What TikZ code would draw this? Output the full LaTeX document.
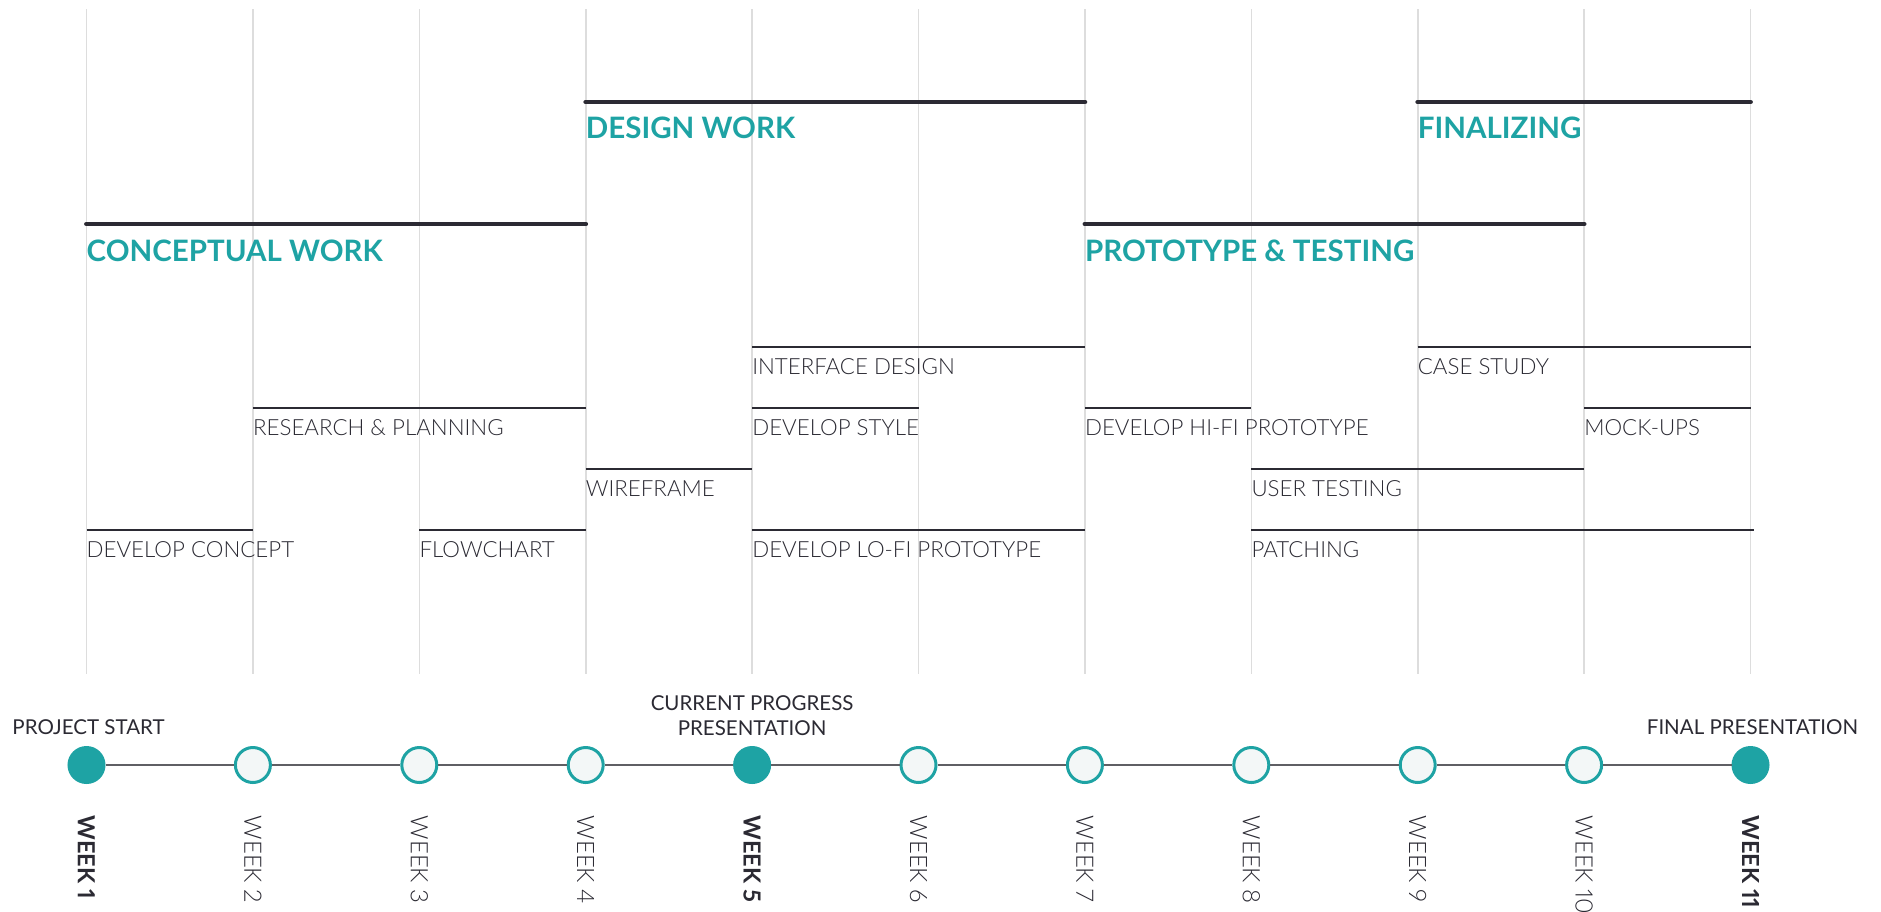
\documentclass[tikz,border=0pt]{standalone}
\usepackage{fontspec}
\setmainfont{Lato}[Numbers=Proportional]
\newfontfamily\lightfont{Lato Light}[Numbers=Proportional]
\definecolor{teal}{RGB}{30,163,164}
\definecolor{ink}{RGB}{43,42,51}
\definecolor{gridgray}{RGB}{221,221,221}
\definecolor{ringfill}{RGB}{243,247,247}
\definecolor{axisgray}{RGB}{95,95,100}
\tikzset{
  gridline/.style={draw=gridgray, line width=1.6pt},
  phaseline/.style={draw=ink, line width=4.8pt, line cap=round},
  taskline/.style={draw=ink, line width=2.2pt},
  headlbl/.style={text=teal, font=\fontsize{29.5}{33}\selectfont\bfseries, inner sep=0pt, anchor=base west},
  tasklbl/.style={text=ink, font=\lightfont\fontsize{22.3}{26}\selectfont, inner sep=0pt, anchor=base west},
  milelbl/.style={text=ink, font=\fontsize{20.5}{25}\selectfont, inner sep=0pt, align=center},
  weekon/.style={text=ink, font=\fontsize{23.5}{28}\selectfont\bfseries, inner sep=0pt, rotate=-90, anchor=west},
  weekoff/.style={text=ink, font=\lightfont\fontsize{24}{28}\selectfont, inner sep=0pt, rotate=-90, anchor=west},
  openmark/.style={circle, draw=teal, fill=ringfill, line width=3pt, minimum size=35pt, inner sep=0pt},
  fullmark/.style={circle, draw=teal, fill=teal, line width=3pt, minimum size=35pt, inner sep=0pt},
  axis/.style={draw=axisgray, line width=1.8pt}
}
\begin{document}
\begin{tikzpicture}[x=1pt,y=-1pt]
\fill[white] (0,0) rectangle (1881,911);
\useasboundingbox (0,0) rectangle (1881,911);
% row coordinates
\coordinate (yA) at (0,102);
\coordinate (yB) at (0,224);
\coordinate (lA) at (0,138);
\coordinate (lB) at (0,261);
\coordinate (y1) at (0,347);
\coordinate (y2) at (0,408);
\coordinate (y3) at (0,469);
\coordinate (y4) at (0,530);
\coordinate (l1) at (0,374);
\coordinate (l2) at (0,435);
\coordinate (l3) at (0,496);
\coordinate (l4) at (0,557);
\coordinate (ym) at (0,765);
\coordinate (yw) at (0,815.5);
% grid
\foreach \i in {1,...,11} {
  \pgfmathsetmacro\xx{86.5+(\i-1)*166.4}
  \coordinate (t\i) at (\xx,9);
  \coordinate (b\i) at (\xx,674);
  \draw[gridline] (t\i) -- (b\i);
}
\coordinate (pend) at ([xshift=3pt]t11);
% phases
\draw[phaseline] (t4 |- yA) -- (t7 |- yA);
\node[headlbl] (design) at (t4 |- lA) {DESIGN WORK};
\draw[phaseline] (t9 |- yA) -- (t11 |- yA);
\node[headlbl] (final) at (t9 |- lA) {FINALIZING};
\draw[phaseline] (t1 |- yB) -- (t4 |- yB);
\node[headlbl] (concept) at (t1 |- lB) {CONCEPTUAL WORK};
\draw[phaseline] (t7 |- yB) -- (t10 |- yB);
\node[headlbl] (proto) at (t7 |- lB) {PROTOTYPE \& TESTING};
% tasks row 1
\draw[taskline] (t5 |- y1) -- (t7 |- y1);
\node[tasklbl] (iface) at (t5 |- l1) {INTERFACE DESIGN};
\draw[taskline] (t9 |- y1) -- (t11 |- y1);
\node[tasklbl] (case) at (t9 |- l1) {CASE STUDY};
% row 2
\draw[taskline] (t2 |- y2) -- (t4 |- y2);
\node[tasklbl] (research) at (t2 |- l2) {RESEARCH \& PLANNING};
\draw[taskline] (t5 |- y2) -- (t6 |- y2);
\node[tasklbl] (style) at (t5 |- l2) {DEVELOP STYLE};
\draw[taskline] (t7 |- y2) -- (t8 |- y2);
\node[tasklbl] (hifi) at (t7 |- l2) {DEVELOP HI-FI PROTOTYPE};
\draw[taskline] (t10 |- y2) -- (t11 |- y2);
\node[tasklbl] (mock) at (t10 |- l2) {MOCK-UPS};
% row 3
\draw[taskline] (t4 |- y3) -- (t5 |- y3);
\node[tasklbl] (wire) at (t4 |- l3) {WIREFRAME};
\draw[taskline] (t8 |- y3) -- (t10 |- y3);
\node[tasklbl] (user) at (t8 |- l3) {USER TESTING};
% row 4
\draw[taskline] (t1 |- y4) -- (t2 |- y4);
\node[tasklbl] (dconcept) at (t1 |- l4) {DEVELOP CONCEPT};
\draw[taskline] (t3 |- y4) -- (t4 |- y4);
\node[tasklbl] (flow) at (t3 |- l4) {FLOWCHART};
\draw[taskline] (t5 |- y4) -- (t7 |- y4);
\node[tasklbl] (lofi) at (t5 |- l4) {DEVELOP LO-FI PROTOTYPE};
\draw[taskline] (t8 |- y4) -- (pend |- y4);
\node[tasklbl] (patch) at (t8 |- l4) {PATCHING};
% milestones
\foreach \i in {1,...,11} {
  \ifnum\i=1 \node[fullmark] (w\i) at (t\i |- ym) {};
  \else\ifnum\i=5 \node[fullmark] (w\i) at (t\i |- ym) {};
  \else\ifnum\i=11 \node[fullmark] (w\i) at (t\i |- ym) {};
  \else \node[openmark] (w\i) at (t\i |- ym) {};
  \fi\fi\fi
}
\foreach \i [evaluate=\i as \j using int(\i+1)] in {1,...,10} {
  \draw[axis] (w\i) -- (w\j);
}
% week labels
\node[weekon] (k1) at (t1 |- yw) {WEEK 1};
\node[weekoff] (k2) at (t2 |- yw) {WEEK 2};
\node[weekoff] (k3) at (t3 |- yw) {WEEK 3};
\node[weekoff] (k4) at (t4 |- yw) {WEEK 4};
\node[weekon] (k5) at (t5 |- yw) {WEEK 5};
\node[weekoff] (k6) at (t6 |- yw) {WEEK 6};
\node[weekoff] (k7) at (t7 |- yw) {WEEK 7};
\node[weekoff] (k8) at (t8 |- yw) {WEEK 8};
\node[weekoff] (k9) at (t9 |- yw) {WEEK 9};
\node[weekoff] (k10) at (t10 |- yw) {WEEK 10};
\node[weekon] (k11) at (t11 |- yw) {WEEK 11};
% milestone captions
\coordinate (cb) at (0,734);
\coordinate (ct) at (0,695);
\node[milelbl, anchor=base] (start) at ([xshift=2pt]t1 |- cb) {PROJECT START};
\node[milelbl, anchor=north] (current) at (t5 |- ct) {CURRENT PROGRESS\\PRESENTATION};
\node[milelbl, anchor=base] (finalp) at ([xshift=2pt]t11 |- cb) {FINAL PRESENTATION};
\end{tikzpicture}
\end{document}
